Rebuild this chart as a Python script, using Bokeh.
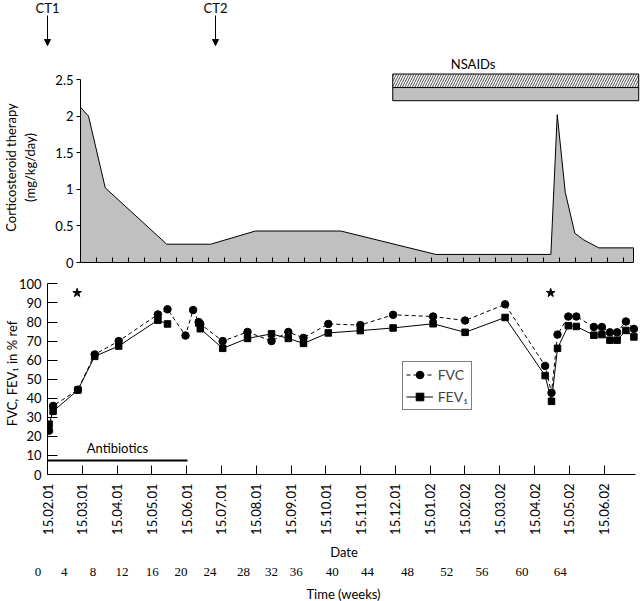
import math
from bokeh.plotting import figure
from bokeh.models import (FixedTicker, Label, LabelSet, Arrow, NormalHead, Range1d,
                          Legend, LegendItem, ColumnDataSource)
from bokeh.embed import file_html
from bokeh.resources import INLINE

FONT = "Lato"
FS = "13px"

# ---------------- data ----------------
weeks_per_month = 365.25 / 12 / 7

date_labels = ["15.02.01", "15.03.01", "15.04.01", "15.05.01", "15.06.01", "15.07.01",
               "15.08.01", "15.09.01", "15.10.01", "15.11.01", "15.12.01", "15.01.02",
               "15.02.02", "15.03.02", "15.04.02", "15.05.02", "15.06.02"]
week_labels = ["0", "4", "8", "12", "16", "20", "24", "28", "32", "36", "40", "44",
               "48", "52", "56", "60", "64"]
# where the week labels sit under the time axis (in weeks)
week_label_pos = [-1.2, 2.1, 5.7, 9.3, 13.1, 16.7, 20.3, 24.5, 28.0, 31.1, 35.6, 40.0,
                  45.0, 49.9, 54.3, 59.3, 64.1]

# corticosteroid therapy (mg/kg/day)
cortico_weeks = [4, 5, 7.1, 14.8, 20.3, 25.9, 36.6, 48.5, 62.9, 63.7, 64.7, 65.9, 67.0, 68.9, 73.25]
cortico_dose = [2.12, 2.0, 1.02, 0.25, 0.25, 0.43, 0.43, 0.11, 0.11, 2.02, 0.96, 0.40, 0.31, 0.20, 0.20]
cortico_ticks = [0, 0.5, 1, 1.5, 2, 2.5]
cortico_tick_labels = ["0", "0.5", "1", "1.5", "2", "2.5"]

ct_weeks = [0, 21]
ct_labels = ["CT1", "CT2"]
nsaid_period = [43.1, 73.9]

# lung function (% ref)
lung_weeks = [0.2, 0.7, 3.8, 5.9, 8.9, 13.8, 15.0, 17.25, 18.2, 18.9, 19.1, 21.9, 25.0, 28.0,
              30.1, 32.0, 35.1, 39.1, 43.2, 48.2, 52.2, 57.2, 62.2, 63.0, 63.75, 65.1, 66.1,
              68.3, 69.3, 70.3, 71.2, 72.3, 73.3]
fvc = [23, 36, 44.5, 63, 70, 84, 86.7, 72.9, 86.3, 80, 79, 70, 74.8, 70, 74.8, 71.7, 79, 78.4,
       83.8, 82.9, 80.8, 89.3, 57, 42.9, 73.4, 82.9, 82.9, 77.4, 77.4, 74.6, 74.6, 80.3, 76.4]
nan = float("nan")
fev1 = [26.4, 33.2, 44.3, 62, 67.4, 81, 79, nan, nan, 79.5, 76.5, 66.2, 71.4, 73.8, 71.4, 68.8,
        74.3, 75.5, 76.9, 79.1, 74.6, 82.4, 51.9, 38.4, 66.2, 78.1, 77.7, 73.1, 73.4, 70.5, 70.5,
        75.6, 72.2]
star_weeks = [3.7, 62.9]
star_values = [95.3, 95.3]
antibiotic_period = [0, 17.5]
antibiotic_level = 7.4
lung_ticks = list(range(0, 101, 10))

GRAY = "#c0c0c0"
W = 640
PX_PER_WEEK = 8.0
LOWER_LEFT = 47                      # px of the lower y axis (week 0)
X_END = (W - LOWER_LEFT) / PX_PER_WEEK
X_START_STRIP = -LOWER_LEFT / PX_PER_WEEK


def bare(fig):
    fig.outline_line_color = None
    fig.xgrid.visible = False
    fig.ygrid.visible = False
    fig.background_fill_color = "white"
    fig.border_fill_color = "white"


# ---------------- top strip: CT arrows ----------------
TOP_H = 72
top = figure(width=W, height=TOP_H, x_range=Range1d(X_START_STRIP, X_END),
             y_range=Range1d(TOP_H, 0),
             x_axis_location=None, y_axis_location=None, output_backend="svg",
             toolbar_location=None, min_border=0)
bare(top)
for w, t in zip(ct_weeks, ct_labels):
    top.add_layout(Label(x=w, y=7.5, text=t, text_align="center", text_baseline="middle",
                         text_font=FONT, text_font_size=FS, text_color="black"))
    top.add_layout(Arrow(end=NormalHead(size=6, line_color="black", fill_color="black"),
                         x_start=w, y_start=15, x_end=w, y_end=45,
                         line_color="black", line_width=1))
top.add_layout(Label(x=53.2, y=63, text="NSAIDs", text_align="center", text_baseline="middle",
                     text_font=FONT, text_font_size=FS, text_color="black"))

# ---------------- upper panel ----------------
UP_H = 200
up = figure(width=W, height=UP_H, x_range=Range1d(4, X_END), y_range=Range1d(0, 190 / 73.2),
            output_backend="svg", toolbar_location=None,
            min_border_left=79, min_border_right=0, min_border_top=0, min_border_bottom=10)
bare(up)

xs = [cortico_weeks[0]] + cortico_weeks + [cortico_weeks[-1]]
ys = [0] + cortico_dose + [0]
up.patch(xs, ys, fill_color=GRAY, line_color="black", line_width=1)

up.quad(left=[nsaid_period[0]], right=[nsaid_period[1]], bottom=[2.39], top=[2.575],
        fill_color="white", hatch_pattern="/", hatch_color="black", hatch_scale=5,
        hatch_weight=0.7, line_color="black", line_width=1)
up.quad(left=[nsaid_period[0]], right=[nsaid_period[1]], bottom=[2.21], top=[2.39],
        fill_color=GRAY, line_color="black", line_width=1)

xa = up.xaxis[0]
xa.ticker = FixedTicker(ticks=list(range(4, 73, 2)))
xa.bounds = (4, 73.25)
xa.major_tick_in = 5
xa.major_tick_out = 0
xa.minor_tick_line_color = None
xa.major_label_text_color = None
xa.major_label_text_font_size = "1px"
xa.major_label_standoff = 0
xa.axis_line_color = "black"
xa.major_tick_line_color = "black"

ya = up.yaxis[0]
ya.ticker = FixedTicker(ticks=cortico_ticks)
ya.major_label_overrides = {t: l for t, l in zip(cortico_ticks, cortico_tick_labels)}
ya.bounds = (0, 2.5)
ya.major_tick_out = 4
ya.major_tick_in = 0
ya.minor_tick_line_color = None
ya.major_label_standoff = 3
ya.major_label_text_font = FONT
ya.major_label_text_font_size = FS
ya.major_label_text_color = "black"
ya.axis_label = "Corticosteroid therapy\n(mg/kg/day)"
ya.axis_label_text_font = FONT
ya.axis_label_text_font_size = FS
ya.axis_label_text_font_style = "normal"
ya.axis_label_text_color = "black"
ya.axis_label_standoff = 14

# ---------------- lower panel ----------------
LO_H = 290
lo = figure(width=W, height=LO_H, x_range=Range1d(0, X_END), y_range=Range1d(0, 205 / 1.934),
            output_backend="svg", toolbar_location=None,
            min_border_left=LOWER_LEFT, min_border_right=0, min_border_top=0,
            min_border_bottom=85)
bare(lo)

src = ColumnDataSource(dict(w=lung_weeks, fvc=fvc, fev1=fev1))
l1 = lo.line("w", "fvc", source=src, line_color="black", line_width=1, line_dash="4 3")
m1 = lo.scatter("w", "fvc", source=src, marker="circle", size=7.5, fill_color="black",
                line_color="black")
l2 = lo.line("w", "fev1", source=src, line_color="black", line_width=1)
m2 = lo.scatter("w", "fev1", source=src, marker="square", size=6.5, fill_color="black",
                line_color="black")
lo.scatter(star_weeks, star_values, marker="star", size=9, fill_color="black", line_color="black")

lo.line(antibiotic_period, [antibiotic_level] * 2, line_color="black", line_width=2)
lo.add_layout(Label(x=sum(antibiotic_period) / 2, y=14, text="Antibiotics", text_align="center",
                    text_baseline="middle", text_font=FONT, text_font_size=FS,
                    text_color="black"))

legend = Legend(items=[LegendItem(label="FVC", renderers=[l1, m1]),
                       LegendItem(label="FEV\u2081", renderers=[l2, m2])],
                location=(354.7, 63.7))
legend.border_line_color = "black"
legend.border_line_width = 1
legend.padding = 3
legend.spacing = 3
legend.margin = 0
legend.glyph_width = 27
legend.glyph_height = 19
legend.label_height = 19
legend.label_standoff = 5
legend.label_text_font = FONT
legend.label_text_font_size = "14px"
legend.background_fill_alpha = 1
lo.add_layout(legend)

xb = lo.xaxis[0]
xb.ticker = FixedTicker(ticks=[i * weeks_per_month for i in range(len(date_labels))])
xb.major_label_overrides = {i * weeks_per_month: d for i, d in enumerate(date_labels)}
xb.major_label_orientation = math.pi / 2
xb.bounds = (0, 73.5)
xb.major_tick_in = 9
xb.major_tick_out = 0
xb.minor_tick_line_color = None
xb.major_label_standoff = 9
xb.major_label_text_font = FONT
xb.major_label_text_font_size = FS
xb.major_label_text_color = "black"
xb.axis_label = "Date"
xb.axis_label_text_font = FONT
xb.axis_label_text_font_size = FS
xb.axis_label_text_font_style = "normal"
xb.axis_label_text_color = "black"
xb.axis_label_standoff = 6

yb = lo.yaxis[0]
yb.ticker = FixedTicker(ticks=lung_ticks)
yb.bounds = (0, 100)
yb.major_tick_in = 10
yb.major_tick_out = 0
yb.minor_tick_line_color = None
yb.major_label_standoff = 6
yb.major_label_text_font = FONT
yb.major_label_text_font_size = FS
yb.major_label_text_color = "black"
yb.axis_label = "FVC, FEV\u2081 in % ref"
yb.axis_label_text_font = FONT
yb.axis_label_text_font_size = FS
yb.axis_label_text_font_style = "normal"
yb.axis_label_text_color = "black"
yb.axis_label_standoff = -4

# ---------------- bottom strip: time in weeks ----------------
WK_H = 601 - TOP_H - UP_H - LO_H
wk = figure(width=W, height=WK_H, x_range=Range1d(X_START_STRIP, X_END),
            y_range=Range1d(WK_H, 0),
            x_axis_location=None, y_axis_location=None, output_backend="svg",
            toolbar_location=None, min_border=0)
bare(wk)
wk_src = ColumnDataSource(dict(x=week_label_pos, y=[9.5] * len(week_labels), t=week_labels))
wk.add_layout(LabelSet(x="x", y="y", text="t", source=wk_src, text_align="center",
                       text_baseline="middle", text_font=FONT, text_font_size=FS,
                       text_color="black"))
wk.add_layout(Label(x=37, y=WK_H, text="Time (weeks)", text_align="center",
                    text_baseline="bottom", text_font=FONT, text_font_size=FS,
                    text_color="black"))

open("out.html", "w").write(file_html([top, up, lo, wk], INLINE))
